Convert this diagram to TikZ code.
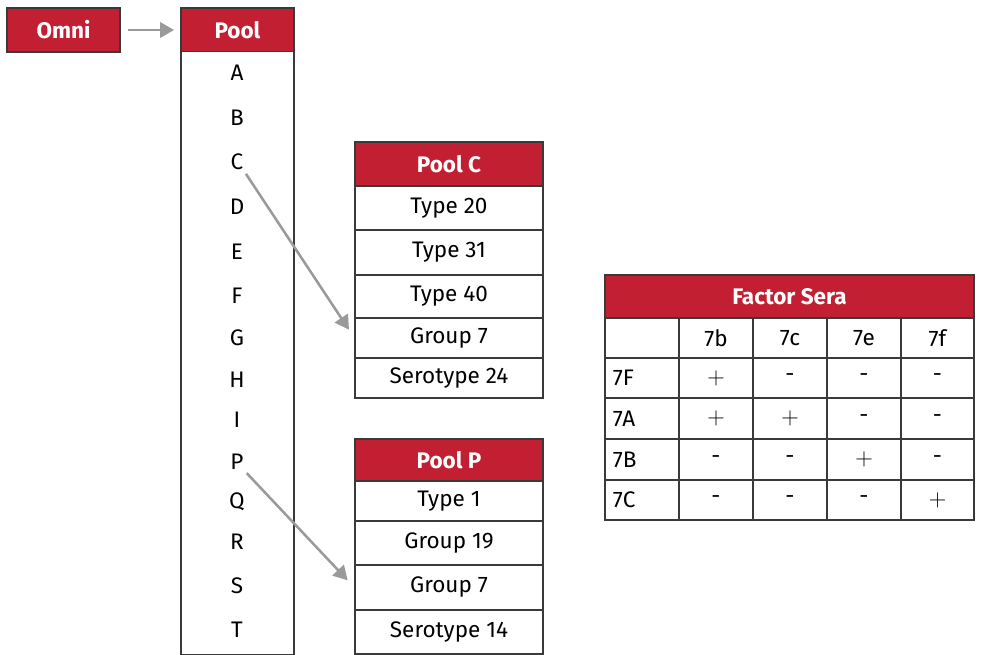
\documentclass[tikz,border=0pt]{standalone}
\usepackage{fontspec}
\setmainfont{Fira Sans}
\usetikzlibrary{arrows.meta}
\definecolor{poolred}{HTML}{C21F32}
\definecolor{edgegray}{HTML}{3A3A3A}
\definecolor{arrowgray}{HTML}{9A9A9A}

\begin{document}
\begin{tikzpicture}[x=0.025cm, y=-0.025cm,
    box/.style={draw=edgegray, line width=0.8pt, inner sep=0pt,
                font=\fontsize{16}{19}\selectfont},
    header/.style={box, fill=poolred, text=white,
                   font=\fontsize{16}{19}\selectfont\bfseries},
    cell/.style={box, fill=white},
    letter/.style={font=\fontsize{16}{19}\selectfont, inner sep=0pt},
    link/.style={draw=arrowgray, line width=1.8pt,
                 -{Triangle[length=10pt,width=11pt]}}]
   \useasboundingbox (0,0) rectangle (981,655);

   % Omni and the pool list
   \node[header, minimum width=2.825cm, minimum height=1.1cm] (omni) at (63.5,30) {Omni};
   \node[header, minimum width=2.825cm, minimum height=1.1cm] (poolhead) at (237.5,30) {Pool};
   \node[cell, minimum width=2.825cm, minimum height=15.05cm] (poolbody) at (237.5,353) {};
   \foreach \l/\y in {A/73,B/118,C/162,D/207,E/252,F/296,G/338,H/380,
                      I/420,P/462,Q/502,R/542,S/586,T/630}
     \node[letter] (l\l) at (237,\y) {\l};

   % Pool C
   \node[header, minimum width=4.7cm, minimum height=1.1cm] (pcC) at (449,164) {Pool C};
   \node[cell, minimum width=4.7cm, minimum height=1.1cm] (c20) at (449,208) {Type 20};
   \node[cell, minimum width=4.7cm, minimum height=1.125cm] (c31) at (449,252.5) {Type 31};
   \node[cell, minimum width=4.7cm, minimum height=1.075cm] (c40) at (449,296.5) {Type 40};
   \node[cell, minimum width=4.7cm, minimum height=1cm] (cg7) at (449,338) {Group 7};
   \node[cell, minimum width=4.7cm, minimum height=1cm] (cs24) at (449,378) {Serotype 24};

   % Pool P
   \node[header, minimum width=4.7cm, minimum height=1.05cm] (pcP) at (449,460) {Pool P};
   \node[cell, minimum width=4.7cm, minimum height=1cm] (p1) at (449,501) {Type 1};
   \node[cell, minimum width=4.7cm, minimum height=1.1cm] (pg19) at (449,543) {Group 19};
   \node[cell, minimum width=4.7cm, minimum height=1.125cm] (pg7) at (449,587.5) {Group 7};
   \node[cell, minimum width=4.7cm, minimum height=1.1cm] (ps14) at (449,632) {Serotype 14};

   % Factor Sera table
   \node[header, minimum width=9.225cm, minimum height=1.075cm] (fshead) at (789.5,296.5) {Factor Sera};
   \foreach \r/\y/\h/\lab/\a/\b/\c/\d in {
       0/338/1/{}/7b/7c/7e/7f,
       1/378/1/7F/$+$/-/-/-,
       2/418.5/1.025/7A/$+$/$+$/-/-,
       3/459.5/1.025/7B/-/-/$+$/-,
       4/500/1/7C/-/-/-/$+$} {
     \node[cell, minimum width=1.85cm, minimum height=\h cm, text width=1.45cm,
           inner xsep=0.2cm, align=left] (fs\r0) at (642,\y) {\lab};
     \node[cell, minimum width=1.85cm, minimum height=\h cm] (fs\r1) at (716,\y) {\a};
     \node[cell, minimum width=1.85cm, minimum height=\h cm] (fs\r2) at (790,\y) {\b};
     \node[cell, minimum width=1.85cm, minimum height=\h cm] (fs\r3) at (864,\y) {\c};
     \node[cell, minimum width=1.825cm, minimum height=\h cm] (fs\r4) at (937.5,\y) {\d};
   }

   % arrows
   \draw[link, shorten <=5.5pt, shorten >=4.5pt] (omni.east) -- (poolhead.west);
   \draw[link, shorten <=3pt, shorten >=7pt] (lC.south east) -- (cg7.west);
   \draw[link, shorten <=3pt, shorten >=7pt] (lP.south east) -- (pg7.west);
\end{tikzpicture}
\end{document}
